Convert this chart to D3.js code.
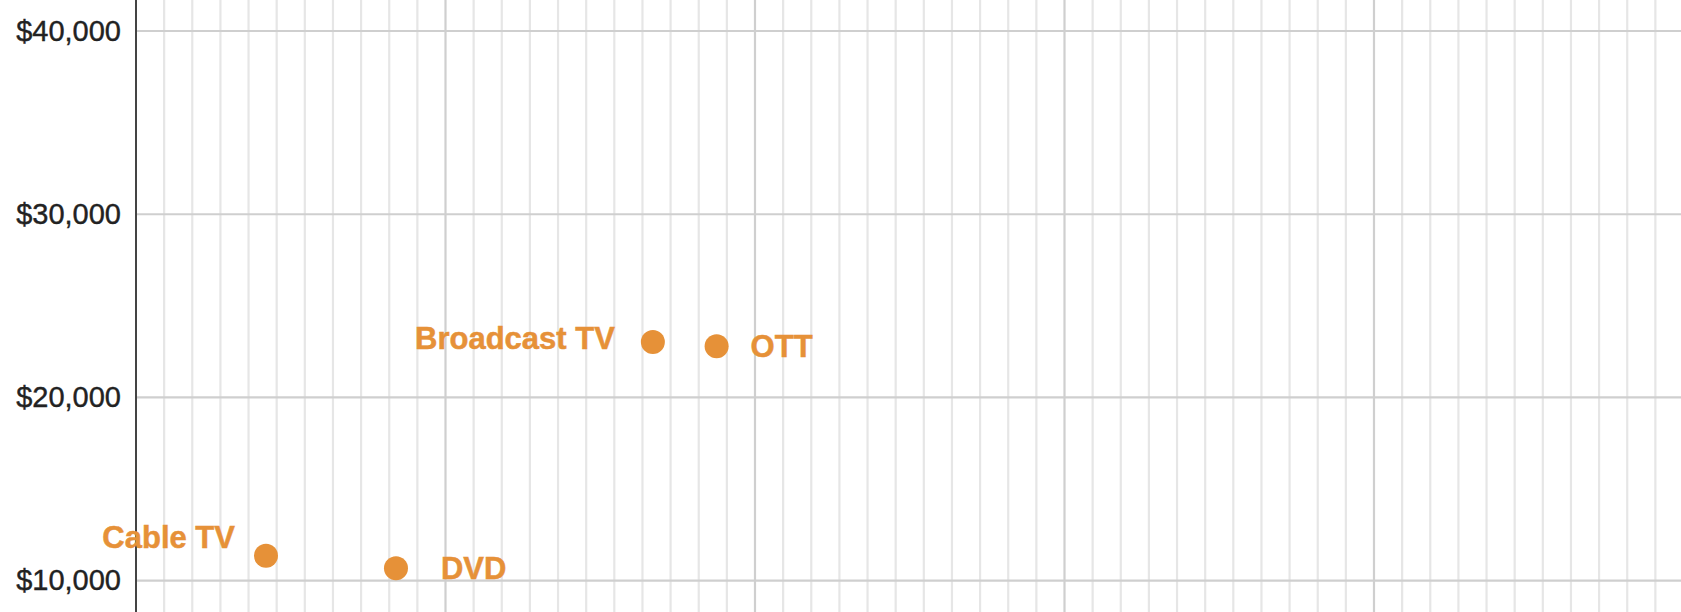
<!DOCTYPE html>
<html>
<head>
<meta charset="utf-8">
<script src="https://cdn.jsdelivr.net/npm/d3@7"></script>
<style>
  body { margin: 0; background: #fff; }
  svg { display: block; }
</style>
</head>
<body>
<svg id="chart" width="1681" height="612"></svg>
<script>
// channel data
const channels = ["Cable TV", "DVD", "Broadcast TV", "OTT"];
const xValues = [4.2, 8.4, 16.7, 18.76];          // x axis has no visible labels
const costValues = [11360, 10680, 23030, 22800];

const yTicks = [10000, 20000, 30000, 40000];
const xMajorTicks = [0, 10, 20, 30, 40, 50];
const minorPerMajor = 11;

const width = 1681, height = 612;
const svg = d3.select("#chart");

const x = d3.scaleLinear().domain([0, 50]).range([136, 1683.5]);
const y = d3.scaleLinear().domain([10000, 40000]).range([580.7, 31]);

const orange = "#e69138";

//minor vertical gridlines
const step = (xMajorTicks[1] - xMajorTicks[0]) / minorPerMajor;
const minor = d3.range(0, 50 + 1e-6, step).filter(v => Math.abs(v / 10 - Math.round(v / 10)) > 1e-6);

svg.append("g")
  .selectAll("line")
  .data(minor)
  .join("line")
  .attr("x1", d => x(d)).attr("x2", d => x(d))
  .attr("y1", 0).attr("y2", height)
  .attr("stroke", "#e6e6e6")
  .attr("stroke-width", 2.2);

//major vertical gridlines
svg.append("g")
  .selectAll("line")
  .data(xMajorTicks.filter(d => d > 0))
  .join("line")
  .attr("x1", d => x(d)).attr("x2", d => x(d))
  .attr("y1", 0).attr("y2", height)
  .attr("stroke", "#cfcfcf")
  .attr("stroke-width", 2.2);

//horizontal gridlines
svg.append("g")
  .selectAll("line")
  .data(yTicks)
  .join("line")
  .attr("x1", x(0)).attr("x2", width)
  .attr("y1", d => y(d)).attr("y2", d => y(d))
  .attr("stroke", "#cfcfcf")
  .attr("stroke-width", 2.2);

//y axis with dollar labels
const yAxis = svg.append("g")
  .attr("transform", `translate(${x(0)},0)`)
  .call(d3.axisLeft(y).tickValues(yTicks).tickFormat(d3.format("$,")).tickSize(0).tickPadding(15));

yAxis.select(".domain").remove();
yAxis.selectAll("text")
  .attr("font-family", "'Liberation Sans', Arial, sans-serif")
  .attr("font-size", 29)
  .attr("fill", "#222")
  .attr("stroke", "#222")
  .attr("stroke-width", 0.4);

//axis line
svg.append("line")
  .attr("x1", x(0)).attr("x2", x(0))
  .attr("y1", 0).attr("y2", height)
  .attr("stroke", "#444")
  .attr("stroke-width", 2);

const points = channels.map((name, i) => ({ name, x: xValues[i], cost: costValues[i] }));

svg.append("g")
  .selectAll("circle")
  .data(points)
  .join("circle")
  .attr("cx", d => x(d.x))
  .attr("cy", d => y(d.cost))
  .attr("r", 12)
  .attr("fill", orange);

// where each label sits relative to its dot
const labelPlacement = {
  "Cable TV": { anchor: "end", dx: -31, dy: -8 },
  "DVD": { anchor: "start", dx: 45, dy: 11 },
  "Broadcast TV": { anchor: "end", dx: -38, dy: 7 },
  "OTT": { anchor: "start", dx: 34, dy: 11 },
};

svg.append("g")
  .selectAll("text")
  .data(points)
  .join("text")
  .attr("x", d => x(d.x) + labelPlacement[d.name].dx)
  .attr("y", d => y(d.cost) + labelPlacement[d.name].dy)
  .attr("text-anchor", d => labelPlacement[d.name].anchor)
  .attr("font-family", "'Liberation Sans', Arial, sans-serif")
  .attr("font-weight", "bold")
  .attr("font-size", 31)
  .attr("fill", orange)
  .attr("stroke", orange)
  .attr("stroke-width", 0.5)
  .text(d => d.name);
</script>
</body>
</html>
